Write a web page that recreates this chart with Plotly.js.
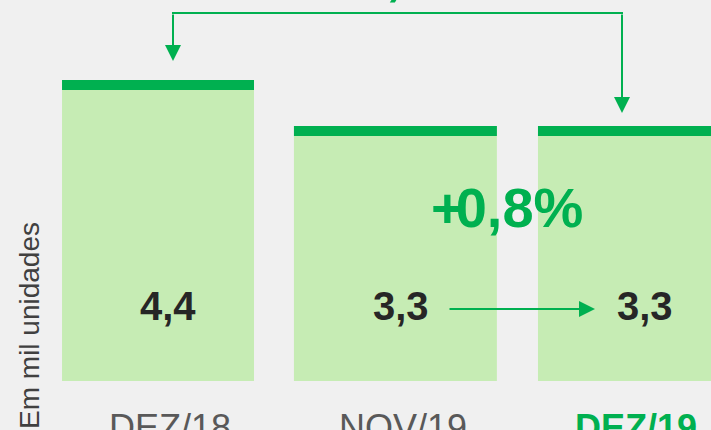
<!DOCTYPE html>
<html>
<head>
<meta charset="utf-8">
<script src="https://cdn.plot.ly/plotly-3.0.1.min.js"></script>
<style>
  html, body { margin: 0; padding: 0; background: #f0f0f0; }
  #chart { width: 711px; height: 430px; }
</style>
</head>
<body>
<div id="chart"></div>
<script>
// ---- data ----
const categories = ['DEZ/18', 'NOV/19', 'DEZ/19'];
const values = [4.4, 3.3, 3.3];
const valueLabels = ['4,4', '3,3', '3,3'];
const changeSign = '+';
const changeValue = '0,8%';
const topChangeSign = '-';
const topChangeValue = '25,0%';
const yTitle = 'Em mil unidades';
const highlightIndex = 2;

// ---- styles ----
const lightGreen = '#c6ecb4';
const darkGreen = '#00b050';
const bg = '#f0f0f0';
const axisBase = -2.798;
const bandUnits = 0.239;
const barOffsets = [-0.4635, -0.468, -0.4206];
const barWidths = [0.824, 0.871, 0.871];
const labelShift = [-2, -2, 9];

const mainBars = {
  type: 'bar',
  x: categories,
  y: values.map(v => v - axisBase),
  base: values.map(() => axisBase),
  offset: barOffsets,
  width: barWidths,
  marker: { color: lightGreen, line: { width: 0 } },
  hoverinfo: 'skip'
};
const topBands = {
  type: 'bar',
  x: categories,
  y: values.map(() => bandUnits),
  base: values.map(v => v - bandUnits),
  offset: barOffsets,
  width: barWidths,
  marker: { color: darkGreen, line: { width: 0 } },
  hoverinfo: 'skip'
};

const tickText = categories.map((c, i) =>
  i === highlightIndex ? "<b><span style='color:" + darkGreen + "'>" + c + "</span></b>" : c);

const fontFam = 'Liberation Sans, Arial, sans-serif';
const tight = (sign, val) => "<b><span style='letter-spacing:-8px'>" + sign + "</span>" + val + "</b>";

const annotations = [];
// value labels
valueLabels.forEach((t, i) => {
  annotations.push({
    xref: 'x', yref: 'paper', x: categories[i], y: 0.197, xshift: labelShift[i],
    text: '<b>' + t + '</b>', showarrow: false,
    font: { family: fontFam, size: 40, color: '#262626' },
    xanchor: 'center', yanchor: 'middle'
  });
});
// change label
annotations.push({
  xref: 'paper', yref: 'paper', x: (506.5 - 40) / 671, y: 0.455,
  text: tight(changeSign, changeValue), showarrow: false,
  font: { family: fontFam, size: 56, color: darkGreen },
  xanchor: 'center', yanchor: 'middle'
});
// top change label (mostly off-canvas)
annotations.push({
  xref: 'paper', yref: 'paper', x: (397.5 - 40) / 671, y: 1, yshift: -8,
  text: tight(topChangeSign, topChangeValue), showarrow: false,
  font: { family: fontFam, size: 56, color: darkGreen },
  xanchor: 'center', yanchor: 'bottom'
});
// y title
annotations.push({
  xref: 'paper', yref: 'paper', x: -0.0155, y: 0.146,
  text: yTitle, showarrow: false, textangle: -90,
  font: { family: fontFam, size: 28, color: '#404040' },
  xanchor: 'center', yanchor: 'middle'
});
// arrows
function arrow(tx, ty, ax, ay) {
  return {
    xref: 'paper', yref: 'paper', x: (tx - 40) / 671, y: 1 - ty / 381,
    ax: ax, ay: ay, text: '', showarrow: true,
    arrowhead: 2, arrowsize: 1.6, arrowwidth: 2, arrowcolor: darkGreen,
    standoff: 0, startstandoff: 0
  };
}
annotations.push(arrow(173, 61, 0, -48));
annotations.push(arrow(622, 113, 0, -100));
annotations.push(arrow(595, 309, -147, 0));

const shapes = [{
  type: 'line', xref: 'paper', yref: 'paper',
  x0: (172 - 40) / 671, x1: (623 - 40) / 671, y0: 1 - 13 / 381, y1: 1 - 13 / 381,
  line: { color: darkGreen, width: 2 }
}];

const layout = {
  width: 711, height: 430,
  margin: { l: 40, r: 0, t: 0, b: 49, pad: 0 },
  paper_bgcolor: bg, plot_bgcolor: bg,
  barmode: 'overlay',
  showlegend: false,
  xaxis: {
    type: 'category', range: [-0.558, 2.322],
    showgrid: false, zeroline: false, showline: false, ticks: '',
    tickvals: categories, ticktext: tickText,
    tickfont: { family: fontFam, size: 36, color: '#595959' },
    ticklabelstandoff: 22, fixedrange: true
  },
  yaxis: {
    range: [axisBase, 6.312], showgrid: false, zeroline: false, showline: false,
    showticklabels: false, ticks: '', fixedrange: true
  },
  annotations: annotations,
  shapes: shapes
};

Plotly.newPlot('chart', [mainBars, topBands], layout, { displayModeBar: false, staticPlot: true });
</script>
</body>
</html>
